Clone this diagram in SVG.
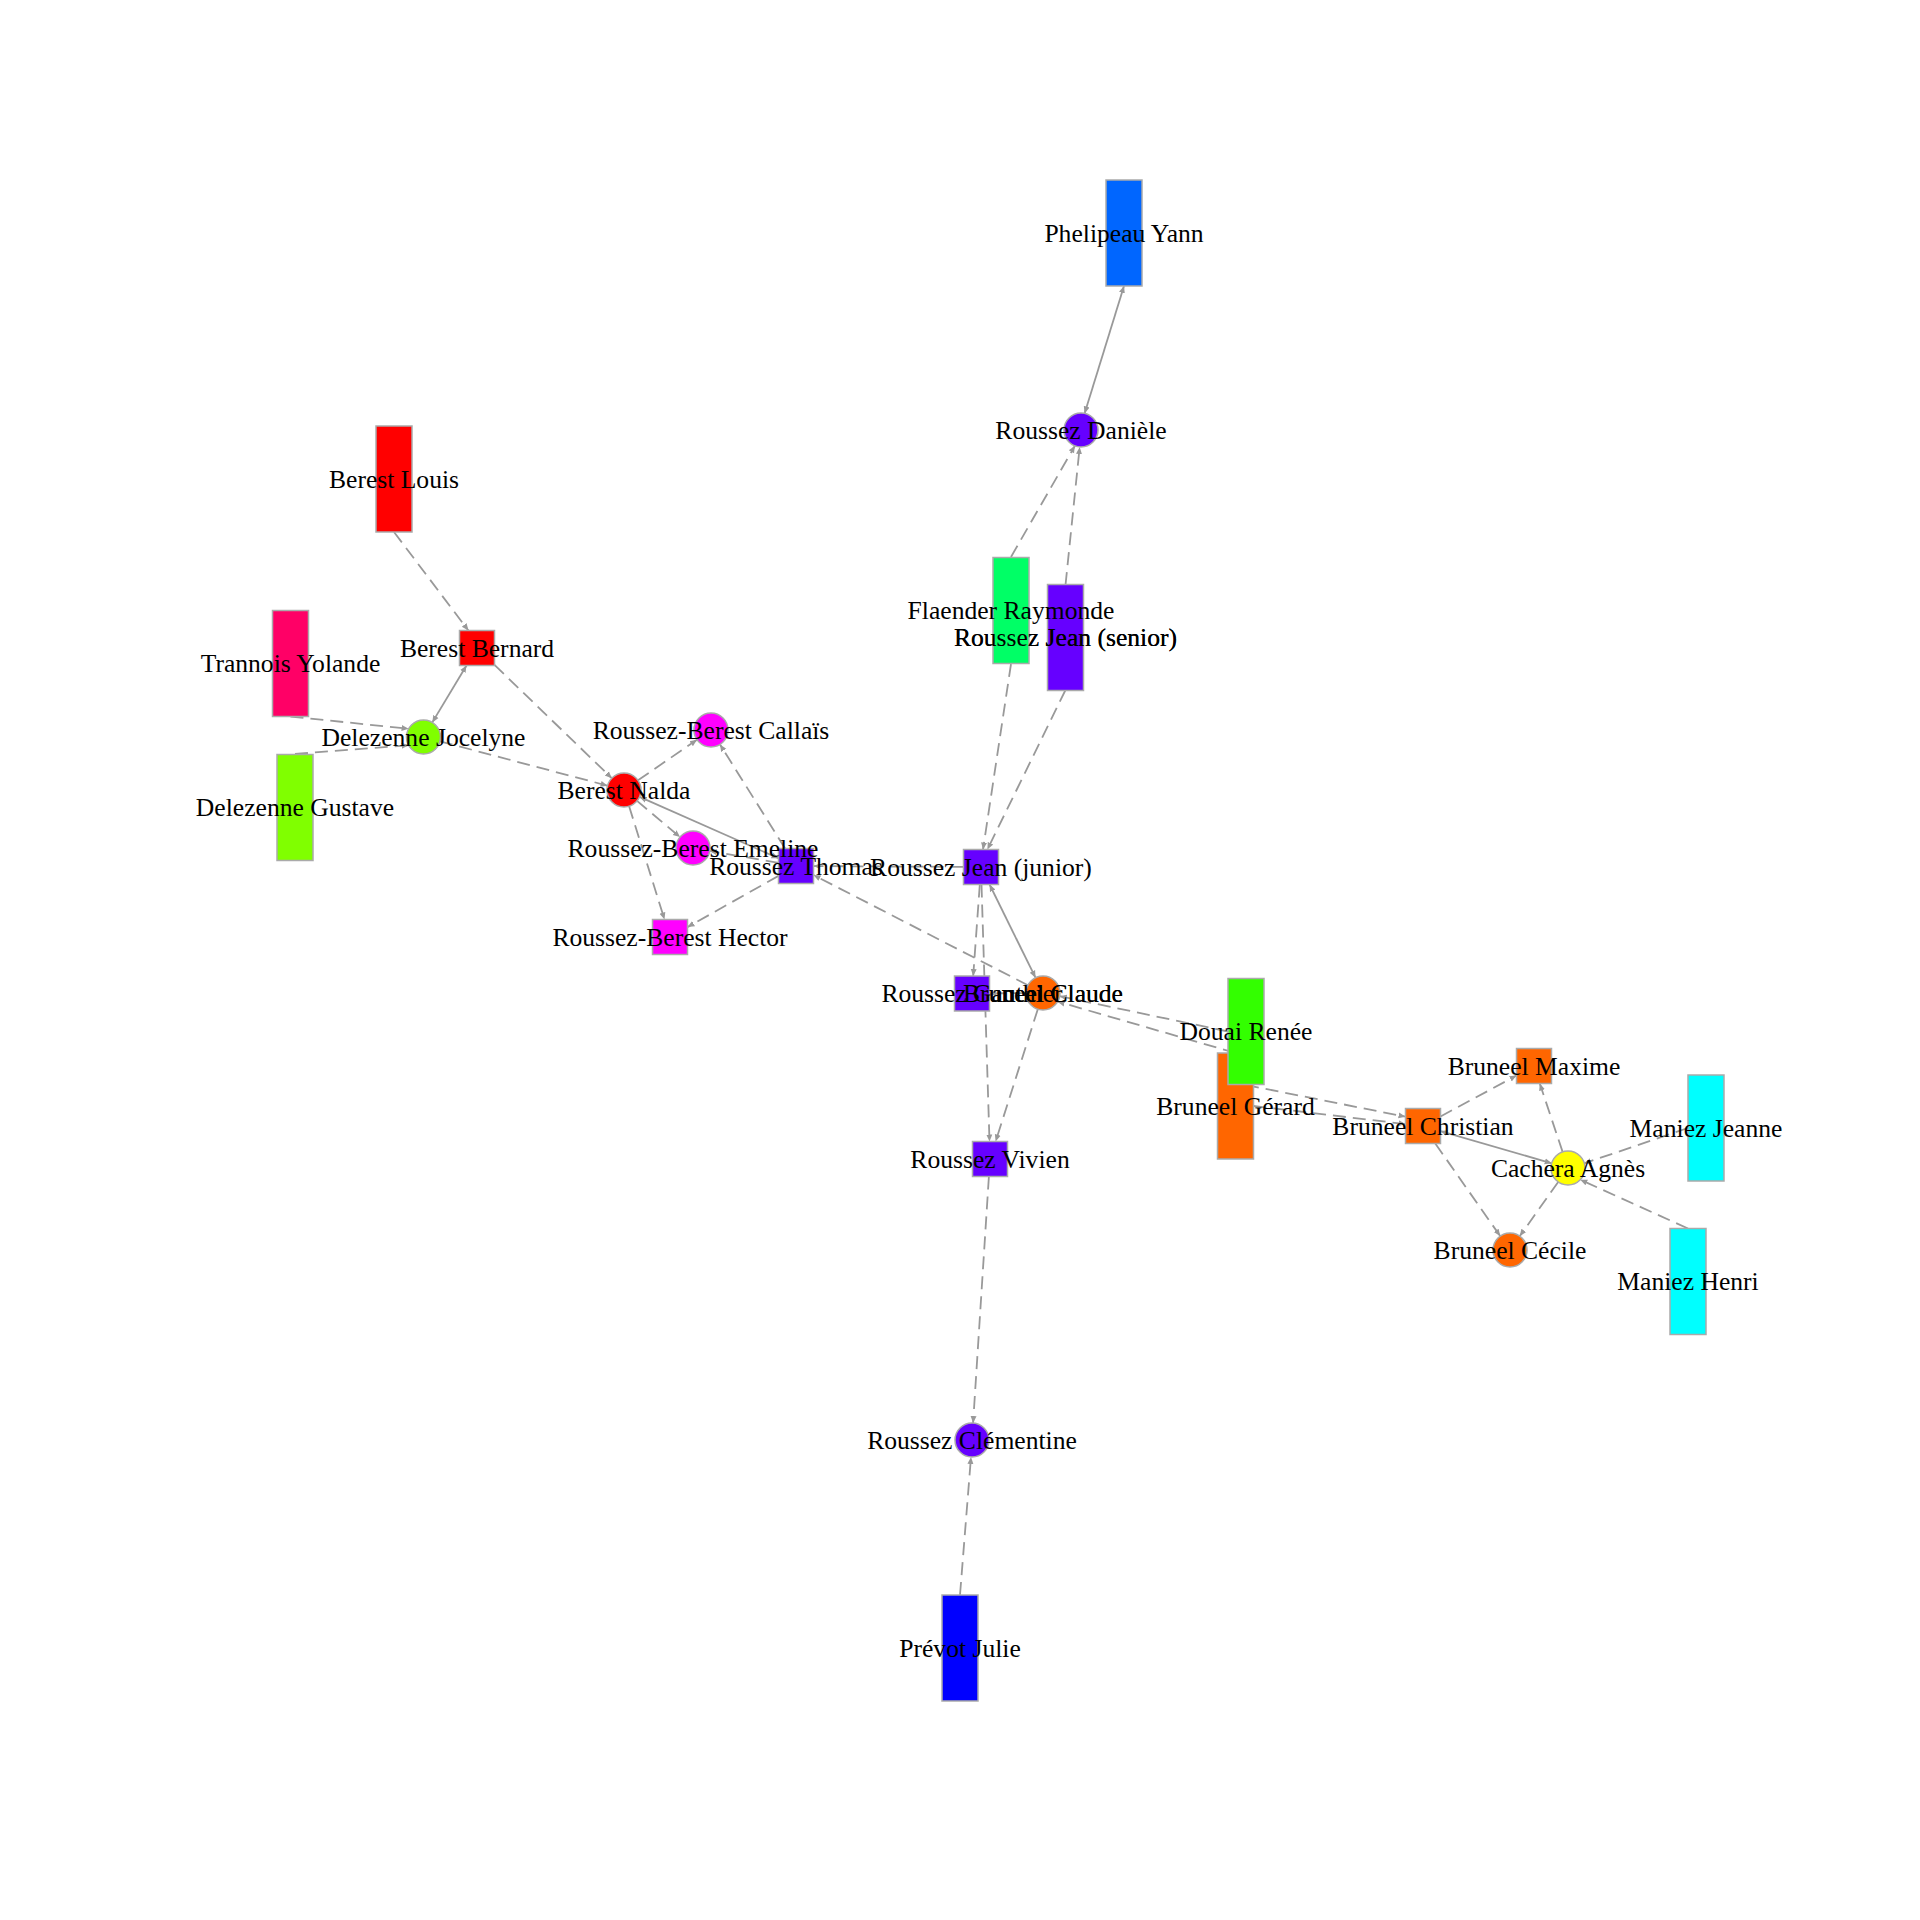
<svg xmlns="http://www.w3.org/2000/svg" xmlns:xlink="http://www.w3.org/1999/xlink" width="1920" height="1920" viewBox="0 0 1920 1920">
<style>
.e{stroke:#999;stroke-width:1.8;fill:none;marker-end:url(#arr)}
.s{marker-start:url(#arr)}
.d{stroke-dasharray:13 7}
.n{stroke:#aaa;stroke-width:1.5}
.l{font-family:"Liberation Serif","Times New Roman",serif;font-size:25.6px;text-anchor:middle;fill:#000}
</style>
<defs>
<marker id="arr" markerUnits="userSpaceOnUse" viewBox="0 0 8 8" markerWidth="8" markerHeight="8" refX="7" refY="4" orient="auto-start-reverse">
<path d="M0,1 L7,4 L0,7 Z" fill="#999"/>
</marker>
</defs>
<rect width="1920" height="1920" fill="#fff"/>
<g id="connectors">
<path class="e s" d="M1124,286 L1084.6,413.4"/>
<path class="e s" d="M466.5,665.5 L432.3,722.4"/>
<path class="e s" d="M639.6,796.9 L778.5,858.3"/>
<path class="e s" d="M989.6,884.5 L1035.5,977.7"/>
<path class="e s" d="M1440.5,1131.1 L1551.7,1163.3"/>
<path class="e d" d="M394,532 L468.4,630.5"/>
<path class="e d" d="M494.5,664.9 L611.8,778.2"/>
<path class="e d" d="M290.5,716.5 L408.6,728.8"/>
<path class="e d" d="M295,754 L408.6,745.2"/>
<path class="e d" d="M439.9,741.3 L607.6,785.7"/>
<path class="e d" d="M638,780.3 L697,739.7"/>
<path class="e d" d="M637,800.9 L680,837.1"/>
<path class="e d" d="M629.1,806.2 L664.5,919.5"/>
<path class="e d" d="M785.1,848.5 L720,744.4"/>
<path class="e d" d="M778.5,862.9 L709.7,850.9"/>
<path class="e d" d="M778.5,875.9 L687.5,927.1"/>
<path class="e d" d="M963.5,866.9 L813.5,866.1"/>
<path class="e d" d="M1027.9,985.2 L813.5,875"/>
<path class="e d" d="M979.8,884.5 L973.2,976"/>
<path class="e d" d="M981.5,884.5 L989.5,1141.5"/>
<path class="e d" d="M1026,993.1 L989.5,993.4"/>
<path class="e d" d="M1037.8,1009.2 L995.6,1141.5"/>
<path class="e d" d="M1228,1031.5 L1059.7,996.2"/>
<path class="e d" d="M1235.5,1053 L1057.7,1001.6"/>
<path class="e d" d="M1246,1085 L1405.5,1116.7"/>
<path class="e d" d="M1253.5,1106 L1405.5,1124.1"/>
<path class="e d" d="M1440.5,1116.5 L1516.5,1075.5"/>
<path class="e d" d="M1435.3,1143.5 L1500.2,1236.1"/>
<path class="e d" d="M1562.6,1151.9 L1539.8,1083.5"/>
<path class="e d" d="M1558.2,1181.9 L1519.8,1236.1"/>
<path class="e d" d="M1688,1128 L1584.3,1163.3"/>
<path class="e d" d="M1688,1228.5 L1580.3,1179.7"/>
<path class="e d" d="M1011,557 L1074.9,445.8"/>
<path class="e d" d="M1065.5,585 L1079.7,447"/>
<path class="e d" d="M1011,664 L983,849.5"/>
<path class="e d" d="M1065.5,690 L987.4,849.5"/>
<path class="e d" d="M988.9,1176.5 L973.1,1423"/>
<path class="e d" d="M960,1595 L971,1457"/>
</g>
<g id="node-phelipeau-yann"><rect class="n" x="1106" y="180" width="36" height="106" fill="#0066FF"/><text class="l" x="1124" y="241.5">Phelipeau Yann</text></g>
<g id="node-roussez-daniele"><circle class="n" cx="1081" cy="430" r="17" fill="#6600FF"/><text class="l" x="1081" y="438.5">Roussez Danièle</text></g>
<g id="node-berest-louis"><rect class="n" x="376" y="426" width="36" height="106" fill="#FF0000"/><text class="l" x="394" y="487.5">Berest Louis</text></g>
<g id="node-roussez-jean-senior"><rect class="n" x="1047.5" y="584.5" width="36" height="106" fill="#6600FF"/><text id="label-jean-senior" class="l" x="1065.5" y="646">Roussez Jean (senior)</text></g>
<g id="node-flaender-raymonde"><rect class="n" x="993" y="557.5" width="36" height="106" fill="#00FF66"/><text class="l" x="1011" y="619">Flaender Raymonde</text></g>
<g id="node-berest-bernard"><rect class="n" x="459.5" y="630.5" width="35" height="35" fill="#FF0000"/><text class="l" x="477" y="656.5">Berest Bernard</text></g>
<g id="node-trannois-yolande"><rect class="n" x="272.5" y="610.5" width="36" height="106" fill="#FF0066"/><text class="l" x="290.5" y="672">Trannois Yolande</text></g>
<g id="node-delezenne-jocelyne"><circle class="n" cx="423.5" cy="737" r="17" fill="#80FF00"/><text class="l" x="423.5" y="745.5">Delezenne Jocelyne</text></g>
<g id="node-roussez-berest-callais"><circle class="n" cx="711" cy="730" r="17" fill="#FF00FF"/><text class="l" x="711" y="738.5">Roussez-Berest Callaïs</text></g>
<g id="node-delezenne-gustave"><rect class="n" x="277" y="754.5" width="36" height="106" fill="#80FF00"/><text class="l" x="295" y="816">Delezenne Gustave</text></g>
<g id="node-berest-nalda"><circle class="n" cx="624" cy="790" r="17" fill="#FF0000"/><text class="l" x="624" y="798.5">Berest Nalda</text></g>
<g id="node-roussez-thomas"><rect class="n" x="778.5" y="848.5" width="35" height="35" fill="#6600FF"/><text class="l" x="796" y="874.5">Roussez Thomas</text></g>
<g id="node-roussez-berest-emeline"><circle class="n" cx="693" cy="848" r="17" fill="#FF00FF"/><text class="l" x="693" y="856.5">Roussez-Berest Emeline</text></g>
<g id="node-roussez-jean-junior"><rect class="n" x="963.5" y="849.5" width="35" height="35" fill="#6600FF"/><text class="l" x="981" y="875.5">Roussez Jean (junior)</text></g>
<g id="node-roussez-berest-hector"><rect class="n" x="652.5" y="919.5" width="35" height="35" fill="#FF00FF"/><text class="l" x="670" y="945.5">Roussez-Berest Hector</text></g>
<g id="node-bruneel-claude"><circle class="n" cx="1043" cy="993" r="17" fill="#FF6600"/><text id="label-claude" class="l" x="1043" y="1001.5">Bruneel Claude</text></g>
<g id="node-roussez-gauthier"><rect class="n" x="954.5" y="976" width="35" height="35" fill="#6600FF"/><text class="l" x="972" y="1002">Roussez Gauthier</text></g>
<g id="node-bruneel-gerard"><rect class="n" x="1217.5" y="1053" width="36" height="106" fill="#FF6600"/><text class="l" x="1235.5" y="1114.5">Bruneel Gérard</text></g>
<g id="node-douai-renee"><rect class="n" x="1228" y="978.5" width="36" height="106" fill="#33FF00"/><text class="l" x="1246" y="1040">Douai Renée</text></g>
<g id="node-bruneel-maxime"><rect class="n" x="1516.5" y="1048.5" width="35" height="35" fill="#FF6600"/><text class="l" x="1534" y="1074.5">Bruneel Maxime</text></g>
<g id="node-bruneel-christian"><rect class="n" x="1405.5" y="1108.5" width="35" height="35" fill="#FF6600"/><text class="l" x="1423" y="1134.5">Bruneel Christian</text></g>
<g id="node-maniez-jeanne"><rect class="n" x="1688" y="1075" width="36" height="106" fill="#00FFFF"/><text class="l" x="1706" y="1136.5">Maniez Jeanne</text></g>
<g id="node-cachera-agnes"><circle class="n" cx="1568" cy="1168" r="17" fill="#FFFF00"/><text class="l" x="1568" y="1176.5">Cachera Agnès</text></g>
<g id="node-roussez-vivien"><rect class="n" x="972.5" y="1141.5" width="35" height="35" fill="#6600FF"/><text class="l" x="990" y="1167.5">Roussez Vivien</text></g>
<g id="node-bruneel-cecile"><circle class="n" cx="1510" cy="1250" r="17" fill="#FF6600"/><text class="l" x="1510" y="1258.5">Bruneel Cécile</text></g>
<g id="node-maniez-henri"><rect class="n" x="1670" y="1228.5" width="36" height="106" fill="#00FFFF"/><text class="l" x="1688" y="1290">Maniez Henri</text></g>
<g id="node-roussez-clementine"><circle class="n" cx="972" cy="1440" r="17" fill="#6600FF"/><text class="l" x="972" y="1448.5">Roussez Clémentine</text></g>
<g id="node-prevot-julie"><rect class="n" x="942" y="1595" width="36" height="106" fill="#0000FF"/><text class="l" x="960" y="1656.5">Prévot Julie</text></g>
<g id="label-overlay"><use xlink:href="#label-jean-senior"/><use xlink:href="#label-claude"/></g>
</svg>
